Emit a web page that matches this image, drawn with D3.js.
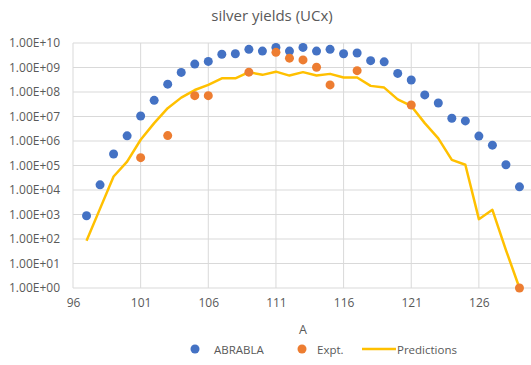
<!DOCTYPE html>
<html>
<head>
<meta charset="utf-8">
<script src="https://cdn.jsdelivr.net/npm/d3@7/dist/d3.min.js"></script>
<style>
  html, body { margin: 0; padding: 0; background: #fff; }
  svg { display: block; font-family: "Open Sans", "Liberation Sans", sans-serif; }
</style>
</head>
<body>
<svg id="chart" width="531" height="365"></svg>
<script>
// Mass numbers A
const massABRABLA = d3.range(97, 130);
// ABRABLA yields (log10 of value)
const logABRABLA = [2.95, 4.21, 5.47, 6.21, 7.02, 7.66, 8.32, 8.80, 9.14, 9.25, 9.54, 9.56, 9.74, 9.67,
  9.82, 9.67, 9.82, 9.67, 9.74, 9.56, 9.59, 9.28, 9.23, 8.76, 8.49, 7.88, 7.55, 6.93, 6.82, 6.20,
  5.83, 5.03, 4.13];

// Experimental yields
const massExpt = [101, 103, 105, 106, 109, 111, 112, 113, 114, 115, 117, 121, 129];
const logExpt = [5.32, 6.22, 7.85, 7.85, 8.81, 9.62, 9.38, 9.31, 9.01, 8.29, 8.87, 7.47, 0];

// Predicted yields (line)
const massPred = d3.range(97, 130);
const logPred = [1.93, 3.24, 4.55, 5.16, 6.05, 6.73, 7.34, 7.77, 8.08, 8.29, 8.56, 8.56, 8.81, 8.70,
  8.83, 8.67, 8.81, 8.67, 8.74, 8.59, 8.59, 8.25, 8.18, 7.70, 7.43, 6.73, 6.11, 5.23, 5.03, 2.81,
  3.19, 1.55, 0];

const yTicks = d3.range(0, 11).map(e => Math.pow(10, e));
const xTicks = [96, 101, 106, 111, 116, 121, 126];

const toPts = (xs, ls) => xs.map((a, i) => ({ a, v: Math.pow(10, ls[i]) }));
const ptsABRABLA = toPts(massABRABLA, logABRABLA);
const ptsExpt = toPts(massExpt, logExpt);
const ptsPred = toPts(massPred, logPred);

const svg = d3.select("#chart");
const plot = { left: 73, top: 43, right: 533, bottom: 288 };

const x = d3.scaleLinear().domain([96, 130]).range([plot.left, plot.right]);
const y = d3.scaleLog().domain([1, 1e10]).range([plot.bottom, plot.top]);

const textColor = "#595959";
const gridColor = "#D9D9D9";

// title
svg.append("text")
  .attr("x", 272).attr("y", 21)
  .attr("text-anchor", "middle")
  .attr("fill", textColor)
  .attr("font-size", 15)
  .text("silver yields (UCx)");

// gridlines
const grid = svg.append("g");
grid.selectAll("line.h").data(yTicks).join("line")
  .attr("x1", plot.left).attr("x2", plot.right)
  .attr("y1", d => y(d)).attr("y2", d => y(d))
  .attr("stroke", gridColor).attr("stroke-width", 1);
grid.selectAll("line.v").data(xTicks).join("line")
  .attr("x1", d => x(d)).attr("x2", d => x(d))
  .attr("y1", plot.top).attr("y2", plot.bottom)
  .attr("stroke", gridColor).attr("stroke-width", 1);

// y axis labels
const yAxis = d3.axisLeft(y).tickValues(yTicks).tickSize(0).tickPadding(13)
  .tickFormat(d => {
    const e = Math.round(Math.log10(d));
    return "1.00E+" + (e < 10 ? "0" + e : e);
  });
const gy = svg.append("g").attr("transform", `translate(${plot.left},0)`).call(yAxis);
gy.select(".domain").remove();
gy.selectAll("text").attr("fill", textColor).attr("font-size", 12)
  .attr("font-family", "Open Sans, Liberation Sans, sans-serif");

// x axis labels
const xAxis = d3.axisBottom(x).tickValues(xTicks).tickSize(0).tickPadding(10).tickFormat(d3.format("d"));
const gx = svg.append("g").attr("transform", `translate(0,${plot.bottom})`).call(xAxis);
gx.select(".domain").remove();
gx.selectAll("text").attr("fill", textColor).attr("font-size", 12)
  .attr("font-family", "Open Sans, Liberation Sans, sans-serif");

// axis title
svg.append("text")
  .attr("x", x(113)).attr("y", 334)
  .attr("text-anchor", "middle")
  .attr("fill", textColor).attr("font-size", 12.5)
  .text("A");

// predictions line
const line = d3.line().x(d => x(d.a)).y(d => y(d.v));
svg.append("path").datum(ptsPred)
  .attr("d", line)
  .attr("fill", "none")
  .attr("stroke", "#FFC000")
  .attr("stroke-width", 2.5)
  .attr("stroke-linejoin", "round");

// ABRABLA markers
svg.append("g").selectAll("circle").data(ptsABRABLA).join("circle")
  .attr("cx", d => x(d.a)).attr("cy", d => y(d.v)).attr("r", 4.5)
  .attr("fill", "#4472C4");

// Expt markers
svg.append("g").selectAll("circle").data(ptsExpt).join("circle")
  .attr("cx", d => x(d.a)).attr("cy", d => y(d.v)).attr("r", 4.5)
  .attr("fill", "#ED7D31");

// legend
const leg = svg.append("g").attr("font-size", 11.5).attr("fill", textColor);
const ly = 349;
leg.append("circle").attr("cx", 195).attr("cy", ly).attr("r", 4.5).attr("fill", "#4472C4");
leg.append("text").attr("x", 214).attr("y", ly + 4.5).text("ABRABLA");
leg.append("circle").attr("cx", 302).attr("cy", ly).attr("r", 4.5).attr("fill", "#ED7D31");
leg.append("text").attr("x", 317).attr("y", ly + 4.5).text("Expt.");
leg.append("line").attr("x1", 362).attr("x2", 396).attr("y1", ly).attr("y2", ly)
  .attr("stroke", "#FFC000").attr("stroke-width", 2.5);
leg.append("text").attr("x", 397).attr("y", ly + 4.5).text("Predictions");
</script>
</body>
</html>
